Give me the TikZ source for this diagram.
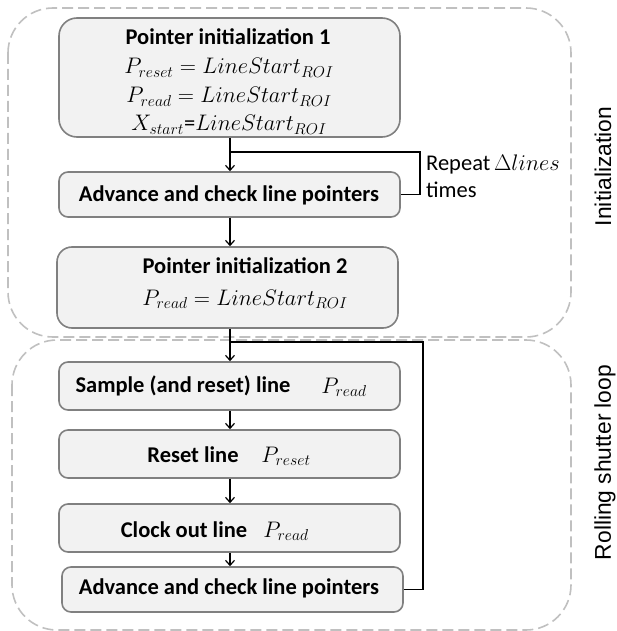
\RequirePackage{fix-cm}
\documentclass[tikz,border=0pt]{standalone}
\usepackage{fontspec}
\setmainfont{Carlito}
\newfontfamily\arialf{Liberation Sans}
\usetikzlibrary{arrows.meta}
\definecolor{boxfill}{HTML}{F2F2F2}
\definecolor{boxborder}{HTML}{808080}
\definecolor{regiongray}{HTML}{C0C0C0}
\begin{document}
\begin{tikzpicture}[x=1pt,y=-1pt,
  region/.style={draw=regiongray, line width=1.6pt, dash pattern=on 11pt off 5pt, rounded corners=45pt},
  stepbox/.style={draw=boxborder, fill=boxfill, line width=1.6pt, rounded corners=9pt, inner sep=0pt},
  title/.style={font=\fontsize{22.5}{26}\selectfont\bfseries, inner sep=0pt},
  mathtxt/.style={font=\fontsize{22.5}{26}\selectfont, inner sep=0pt},
  plain/.style={font=\fontsize{22.5}{26}\selectfont, inner sep=0pt, anchor=base west},
  side/.style={font=\arialf\fontsize{22.8}{26}\selectfont, inner sep=0pt, rotate=90},
  flow/.style={line width=1.2pt, -{Straight Barb[length=5pt,width=9pt]}},
  loopline/.style={line width=1.2pt}
]
\useasboundingbox (0,0) rectangle (616,631);

% regions
\draw[region] (8,8) rectangle (571,337);
\draw[region] (12,340) rectangle (571,630);

\node[side] (lblinit) at (603,166.5) {Initialization};
\node[side] (lblroll) at (605,462.5) {Rolling shutter loop};

% boxes
\node[stepbox, rounded corners=18pt, minimum width=341pt, minimum height=119pt] (b1) at (229.5,77.5) {};
\node[stepbox, minimum width=341pt, minimum height=45pt] (adv1) at (229.5,194.5) {};
\node[stepbox, rounded corners=15pt, minimum width=341pt, minimum height=81pt] (b2) at (227.5,287.5) {};
\node[stepbox, minimum width=341pt, minimum height=48pt] (samp) at (229.5,386) {};
\node[stepbox, minimum width=341pt, minimum height=48pt] (rst) at (229.5,454) {};
\node[stepbox, minimum width=341pt, minimum height=48pt] (clk) at (229.5,528) {};
\node[stepbox, minimum width=341pt, minimum height=45pt] (adv2) at (232.5,589.5) {};

% texts
\node[title] (t1) at (228,37) {Pointer initialization 1};
\node[mathtxt] (m1) at (229,68) {$P_{reset} = LineStart_{ROI}$};
\node[mathtxt] (m2) at (229,97) {$P_{read} = LineStart_{ROI}$};
\node[mathtxt] (m3) at (229,125) {$X_{start}$=$LineStart_{ROI}$};
\node[title] (t2) at (229,195) {Advance and check line pointers};
\node[title] (t3) at (245,266) {Pointer initialization 2};
\node[mathtxt] (m4) at (245,299) {$P_{read} = LineStart_{ROI}$};
\node[title] (t4) at (183,386) {Sample (and reset) line};
\node[mathtxt] (m5) at (344,387) {$P_{read}$};
\node[title] (t5) at (193,455) {Reset line};
\node[mathtxt] (m6) at (286,456) {$P_{reset}$};
\node[title] (t6) at (184,530) {Clock out line};
\node[mathtxt] (m7) at (286,531) {$P_{read}$};
\node[title] (t7) at (229,588) {Advance and check line pointers};
\node[plain] (rep1) at (426,171) {Repeat\,$\Delta lines$};
\node[plain] (rep2) at (426,197) {times};

% connectors
\coordinate (j1) at (230,152);
\coordinate (j2) at (230,342);
\draw[flow] (b1.south -| j1) -- (adv1.north -| j1);
\draw[loopline] (adv1.east) -- (420,194.5) -- (420,152) -- (j1);
\draw[flow] (adv1.south -| j1) -- (b2.north -| j1);
\draw[flow] (b2.south -| j2) -- (samp.north -| j2);
\draw[loopline] (adv2.east) -- (423,589.5) -- (423,342) -- (j2);
\draw[flow] (samp.south -| j2) -- (rst.north -| j2);
\draw[flow] (rst.south -| j2) -- (clk.north -| j2);
\draw[flow] (clk.south -| j2) -- (adv2.north -| j2);
\end{tikzpicture}
\end{document}
